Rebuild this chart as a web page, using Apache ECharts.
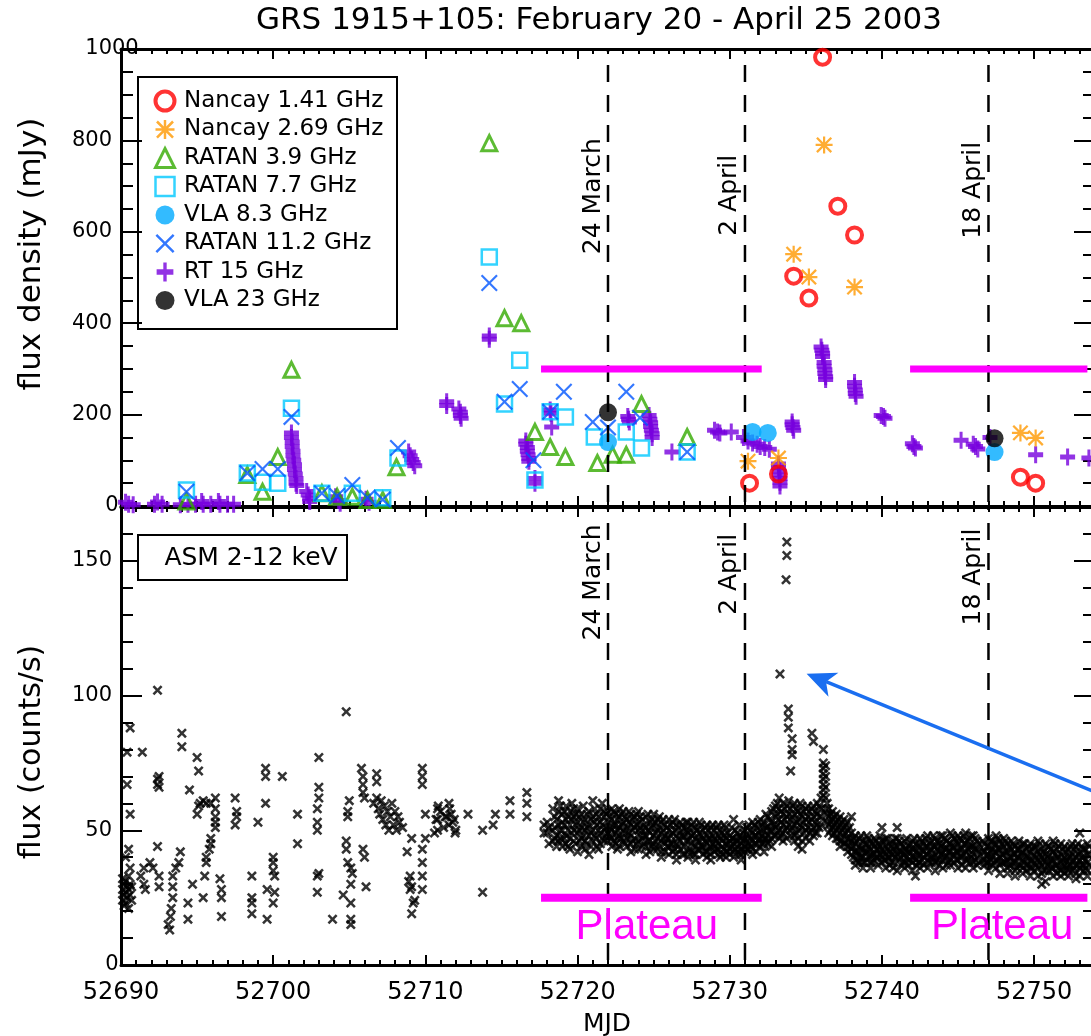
<!DOCTYPE html>
<html><head><meta charset="utf-8">
<script src="https://cdn.jsdelivr.net/npm/echarts/dist/echarts.min.js"></script>
<style>html,body{margin:0;padding:0;background:#fff}#c{width:1091px;height:1036px}</style>
</head><body><div id="c"></div>
<script>
// ---------------- data ----------------
const TITLE = 'GRS 1915+105: February 20 - April 25 2003';
const SERIES_NAMES = ['Nancay 1.41 GHz','Nancay 2.69 GHz','RATAN 3.9 GHz','RATAN 7.7 GHz','VLA 8.3 GHz','RATAN 11.2 GHz','RT 15 GHz','VLA 23 GHz'];
const X_TICK_LABELS = [52690, 52700, 52710, 52720, 52730, 52740, 52750];

const nancay141 = [[52731.3,50],[52733.2,70],[52734.2,503],[52735.2,455],[52736.1,982],[52737.1,656],[52738.2,593],[52749.1,63],[52750.1,50]];
const nancay269 = [[52731.2,98],[52733.2,105],[52734.2,551],[52735.2,501],[52736.2,790],[52738.2,479],[52749.1,160],[52750.1,149]];
const ratan39 = [[52694.3,10],[52698.3,68],[52699.3,31],[52700.3,107],[52701.2,298],[52703.2,28],[52704.2,20],[52705.2,20],[52706.2,13],[52707.2,13],[52708.1,85],[52714.2,794],[52715.2,411],[52716.3,400],[52717.2,162],[52718.2,129],[52719.2,107],[52721.3,94],[52722.3,112],[52723.2,112],[52724.2,223],[52727.2,151]];
const ratan77 = [[52694.3,35],[52698.3,72],[52699.3,52],[52700.3,50],[52701.2,214],[52703.2,28],[52705.2,28],[52707.2,18],[52708.2,105],[52714.2,545],[52715.2,223],[52716.2,319],[52717.2,57],[52718.2,206],[52719.2,195],[52721.1,151],[52723.2,162],[52724.2,127],[52727.2,118]];
const vla83 = [[52722.0,140],[52731.5,162],[52732.5,160],[52747.4,118]];
const ratan112 = [[52694.3,31],[52698.3,72],[52699.3,81],[52700.3,81],[52701.2,195],[52703.2,28],[52704.2,22],[52705.2,46],[52706.2,18],[52707.2,14],[52708.2,127],[52714.2,488],[52715.2,228],[52716.2,256],[52717.1,100],[52718.2,206],[52719.1,250],[52721.0,184],[52722.0,172],[52723.2,250],[52724.1,193],[52727.2,118]];
const rt15 = [[52690.3,8],[52690.5,4],[52690.8,3],[52692.2,4],[52692.4,9],[52692.7,4],[52693.9,3],[52694.4,4],[52694.9,4],[52695.3,10],[52695.4,4],[52695.9,4],[52696.4,10],[52696.5,4],[52697.0,4],[52697.4,4],
 [52701.2,160],[52701.2,150],[52701.25,140],[52701.25,130],[52701.3,120],[52701.3,110],[52701.35,100],[52701.4,90],[52701.4,80],[52701.45,70],[52701.5,60],[52701.5,50],[52701.55,45],
 [52702.2,32],[52702.3,24],[52702.4,16],[52702.4,10],[52704.1,20],[52704.3,12],[52704.4,6],[52706.1,15],[52706.3,8],
 [52708.9,118],[52709.0,110],[52709.1,102],[52709.2,95],[52709.3,88],
 [52711.4,228],[52711.4,220],[52712.2,212],[52712.3,205],[52712.3,198],[52712.35,192],[52714.2,372],[52714.2,365],
 [52716.6,142],[52716.6,135],[52716.7,128],[52716.7,120],[52716.75,112],[52716.8,104],[52716.8,98],[52717.2,60],[52717.2,50],
 [52718.2,210],[52718.25,203],[52718.3,173],[52723.3,196],[52723.35,190],[52723.4,184],
 [52724.7,198],[52724.75,190],[52724.8,182],[52724.8,174],[52724.85,166],[52724.9,158],[52724.9,150],[52726.2,118],
 [52729.0,166],[52729.2,162],[52729.35,160],[52730.1,162],
 [52730.9,150],[52731.2,142],[52731.5,138],[52731.8,135],[52732.0,130],[52732.3,128],[52732.6,124],
 [52733.2,92],[52733.2,84],[52733.25,76],[52733.25,68],[52733.3,60],[52733.3,52],[52733.3,44],
 [52734.1,184],[52734.1,178],[52734.15,172],[52734.2,166],
 [52736.0,348],[52736.05,341],[52736.1,334],[52736.1,327],[52736.2,314],[52736.2,306],[52736.25,298],[52736.25,290],[52736.3,283],[52736.3,277],
 [52738.2,270],[52738.2,262],[52738.25,254],[52738.25,246],[52738.3,240],
 [52739.95,198],[52740.1,196],[52740.2,192],[52742.0,136],[52742.1,130],[52742.2,127],[52745.2,144],
 [52746.0,135],[52746.15,130],[52746.3,125],[52747.1,150],[52750.1,112],[52752.2,107],[52753.6,105]];
const vla23 = [[52722.0,205],[52747.4,148]];

// RXTE/ASM 2-12 keV: rows of [MJD, count rates measured around that time ...]
const asmRows = [
 [52690.1,32,28,24],[52690.2,30,26,22],[52690.3,31,27,23,40],[52690.4,29,25,79,67],[52690.5,33,28,21,43],[52690.6,30,26,88,56,36],[52690.7,24,29],
 [52691.3,33],[52691.4,79],[52691.5,30,36],[52691.6,28],[52691.9,38],[52692.1,36],[52692.4,102,69,67,44],[52692.5,70,66,33,29],
 [52693.1,15],[52693.2,13],[52693.25,18],[52693.3,21],[52693.4,25,29,33],[52693.6,36],[52693.8,38],[52693.9,42],
 [52694.0,86,81],[52694.4,23,17],[52694.5,65],[52694.7,30],
 [52695.0,77,56],[52695.1,72,59],[52695.2,60],[52695.4,61,25],[52695.5,33],[52695.6,60,40,38],[52695.8,43],[52695.9,60,47,45],[52696.2,58,62,55,53,51],
 [52696.5,32],[52696.6,28,25,18],[52697.5,62,52],[52697.6,57,55],[52698.6,33,25,23,19],
 [52699.0,53],[52699.5,73,70,60],[52699.6,28,17],[52700.0,40,38,35,23],[52700.1,33,27],[52700.6,70],[52701.6,56,45],
 [52702.9,53,58,50,33,27],[52703.0,62,66,77,34],[52703.9,17],
 [52704.6,26],[52704.8,94,46,43],[52704.9,38,57,55],[52705.0,61],[52705.1,36,30,23,17,15],[52705.2,34],
 [52705.8,73],[52705.9,70,67,64,43],[52706.0,62,40],[52706.1,29],
 [52706.6,60],[52706.8,71,68,62],[52706.9,58],[52707.0,56],[52707.1,61],[52707.2,54],[52707.3,59],[52707.4,52],[52707.5,57],[52707.6,50],[52707.7,55],[52707.8,60],[52707.9,52],[52708.0,57],[52708.1,50],[52708.2,55],[52708.3,53],
 [52708.5,51],[52708.8,42],[52708.9,31],[52709.0,33,28],[52709.1,47,29,19],[52709.2,23],[52709.3,24],
 [52709.8,43,38,33,28,73,70,67],[52710.0,56,47],
 [52710.6,49],[52710.7,54],[52710.8,58,54,50],[52710.85,59],[52711.0,57],[52711.2,51],[52711.3,55],[52711.4,55],[52711.55,60,52],[52711.6,58],[52711.7,56],[52711.8,53],[52711.9,54],[52711.95,49],[52712.0,50],[52712.8,56],
 [52713.76,50,27],[52714.45,52],[52714.6,56],[52715.56,61,56],[52716.67,64,60,55],[52717.8,52,49],
 [52718.0,49,53],[52718.5,55,47,51],[52718.75,61,57,52,46],[52719.0,56,50,44,53],[52719.25,59,54,48,45],[52719.5,57,52,47,43],[52719.75,55,50,46,58],
 [52720.0,58,53,49,42],[52720.25,56,51,47,44],[52720.5,54,50,46,43],[52720.75,57,52,48,41],[52721.0,61,55,50,46],[52721.25,56,52,47,44],[52721.5,58,53,49,45],[52721.75,55,50,46,57],
 [52722.0,57,53,49,46],[52722.25,58,54,50,47,44],[52722.5,56,52,49,45],[52722.75,55,51,48,44,58],[52723.0,57,53,50,46],[52723.25,54,51,47,44],[52723.5,56,52,48,45,42],[52723.75,55,51,47,43],
 [52724.0,53,50,46,43,57],[52724.25,54,50,47,44],[52724.5,55,51,48,44,41],[52724.75,53,49,46,42],[52725.0,56,52,48,45,43],[52725.25,54,50,47,43],[52725.5,53,49,46,42,40],[52725.75,52,48,45,42],
 [52726.0,54,50,47,44,41],[52726.25,53,49,45,42],[52726.5,52,48,45,41,39],[52726.75,53,49,46,43],[52727.0,51,48,44,41],[52727.25,53,49,46,42,40],[52727.5,52,48,45,42],[52727.75,51,47,44,41,39],
 [52728.0,53,49,46,43],[52728.25,50,47,44,41],[52728.5,52,48,45,42,40],[52728.75,51,47,44,41,39],[52729.0,50,47,44,42],[52729.25,52,48,45,43,41],[52729.5,49,46,44,41],[52729.75,51,47,45,42,40],
 [52730.0,48,46,43,41],[52730.25,54,47,45,42,40],[52730.5,49,46,44,42],[52730.75,47,45,43,41,39],
 [52731.0,50,47,44,42],[52731.25,52,48,45,43],[52731.5,53,49,46,43,41],[52731.75,51,48,45,42],[52732.0,54,50,47,44],[52732.25,53,50,47,45,42],[52732.5,55,51,48,45],[52732.75,57,53,50,47,44],
 [52733.0,59,55,51,48],[52733.25,62,58,54,50,47],[52733.3,108],[52733.5,60,56,52,49,46],[52733.7,143],[52733.75,157,152,59,55,51,47],[52733.85,95,92,88],[52734.0,58,54,50,48,72],[52734.1,84,80,78],
 [52734.25,60,56,52,48,46],[52734.5,57,54,50,47,44],[52734.75,59,55,51,46,43],[52735.0,58,54,50,47],[52735.25,57,53,49,46],[52735.4,86],[52735.5,83,59,55,51,48],[52735.75,60,56,52,49],
 [52736.0,62,58,55,52],[52736.15,80,75,73,71,69,67,65,63],[52736.3,74,70,66,62,58],[52736.5,58,55,52,49],[52736.75,57,54,51,48],[52737.0,56,53,50,47],[52737.25,55,52,49,46,44],[52737.5,54,51,48,45],[52737.75,53,50,47,44,42],[52738.0,55,49,46,43,41],
 [52738.25,48,45,42,39,37],[52738.5,47,44,41,38],[52738.75,46,43,40,38,36],[52739.0,48,45,42,39],[52739.25,46,43,41,38,36],[52739.5,47,44,41,39],[52739.75,45,43,40,37],
 [52740.0,51,46,43,40,38],[52740.25,47,44,41,39,36],[52740.5,45,42,40,37],[52740.75,46,43,41,38,36],[52741.0,51,47,44,41,35],[52741.25,45,42,40,37],[52741.5,46,43,41,38,36],[52741.75,44,42,39,37],
 [52742.0,46,43,40,38,35],[52742.2,33],[52742.25,45,42,39,37],[52742.5,47,44,41,38,36],[52742.75,45,42,40,37],[52743.0,48,44,41,39,36],[52743.25,46,43,40,38],[52743.5,47,44,41,38,35],[52743.75,45,42,39,37],
 [52744.0,48,45,42,39,36],[52744.25,46,43,40,37],[52744.5,49,45,42,39,37],[52744.75,47,44,41,38],[52745.0,48,45,42,39,36],[52745.25,46,43,40,37],[52745.5,49,45,42,39,36],[52745.75,47,44,41,38],
 [52746.0,48,44,41,38,36],[52746.25,46,43,40,37],
 [52746.75,45,42,39,37],[52747.0,47,44,41,38,35],[52747.25,46,43,40,37],[52747.5,48,45,42,39,36],[52747.75,46,43,40,37,34],[52748.0,47,44,41,38],[52748.25,45,42,39,36,34],[52748.5,46,43,40,37],
 [52748.75,44,41,38,35,33],[52749.0,46,43,40,37],[52749.25,45,42,39,36,34],[52749.5,43,40,37,35],[52749.75,45,42,39,36,33],[52750.0,44,41,38,35],[52750.25,46,42,39,36,33],[52750.5,43,40,37,34,30],
 [52750.75,45,41,38,35,31],[52751.0,44,41,38,35],[52751.25,46,42,39,36,33],[52751.5,43,40,37,34],[52751.75,45,41,38,35,33],[52752.0,44,40,37,34],[52752.25,43,40,37,35,33],[52752.5,45,41,38,35],
 [52752.75,44,40,37,34,32],[52753.0,49,42,39,36,33],[52753.25,43,40,37,35],[52753.5,45,41,38,35,33],
 // dwells between the rows above
 [52718.125,51,45],[52718.375,58,50,46],[52718.625,54,48,44],[52718.875,59,50,47],[52719.125,57,52,47],[52719.375,55,50,44],[52719.625,60,54,49],[52719.875,56,52,45],
 [52720.125,55,50,46],[52720.375,59,53,48],[52720.625,56,51,45],[52720.875,54,49,44],[52721.125,58,53,48],[52721.375,55,50,43],[52721.625,60,52,47],[52721.875,56,51,48],
 [52722.125,55,51,48],[52722.375,57,52,46],[52722.625,54,50,47,43],[52722.875,56,52,47],[52723.125,55,49,45],[52723.375,57,53,49],[52723.625,54,50,46],[52723.875,56,52,45],
 [52724.125,55,51,48],[52724.375,52,48,45],[52724.625,56,50,46],[52724.875,54,51,44],[52725.125,53,49,46],[52725.375,55,51,44],[52725.625,54,50,47],[52725.875,51,47,44],
 [52726.125,52,48,45],[52726.375,54,50,43],[52726.625,51,47,44],[52726.875,52,48,41],[52727.125,53,50,46],[52727.375,50,47,43],[52727.625,53,49,41],[52727.875,50,46,43],
 [52728.125,52,48,44],[52728.375,51,46,42],[52728.625,50,47,43],[52728.875,52,48,45],[52729.125,51,46,43],[52729.375,50,47,40],[52729.625,52,48,43],[52729.875,49,45,42],
 [52730.125,51,47,44],[52730.375,50,46,43],[52730.625,52,48,41],[52730.875,49,46,43],
 [52731.125,51,46,43],[52731.375,50,47,44],[52731.625,52,48,45],[52731.875,53,49,46],[52732.125,52,48,45],[52732.375,56,51,47],[52732.625,54,50,46],[52732.875,58,52,48],
 [52733.125,60,56,52,49],[52733.375,57,53,48],[52733.625,58,54,50],[52733.875,61,56,52],[52734.125,59,55,51],[52734.375,58,53,49],[52734.625,60,56,52],[52734.875,57,53,49],
 [52735.125,59,55,51],[52735.375,58,54,50],[52735.625,57,53,49],[52735.875,59,55,51],[52736.4,60,56,53],[52736.625,56,53,50],[52736.875,55,52,49],[52737.125,54,51,47],
 [52737.375,53,50,46],[52737.625,52,49,45],[52737.875,51,47,44],
 [52738.125,47,44,40],[52738.375,46,42,39],[52738.625,48,43,40],[52738.875,45,42,38],[52739.125,47,44,40],[52739.375,45,41,38],[52739.625,46,43,40],[52739.875,48,44,41],
 [52740.125,46,42,39],[52740.375,47,43,40],[52740.625,44,41,38],[52740.875,47,44,40],[52741.125,46,42,39],[52741.375,44,41,38],[52741.625,47,43,40],[52741.875,45,42,39],
 [52742.125,47,43,40],[52742.375,44,41,38],[52742.625,46,43,39],[52742.875,47,44,41],[52743.125,45,42,38],[52743.375,48,44,40],[52743.625,46,43,39],[52743.875,48,44,41],
 [52744.125,47,43,40],[52744.375,45,42,38],[52744.625,48,44,41],[52744.875,46,42,39],[52745.125,47,43,40],[52745.375,48,45,41],[52745.625,46,43,39],[52745.875,48,44,40],
 [52746.125,47,43,39],[52746.375,45,42,38],[52746.625,46,42,39],[52746.875,44,41,38],
 [52747.125,46,42,39],[52747.375,45,42,38],[52747.625,47,43,39],[52747.875,45,41,38],[52748.125,46,42,38],[52748.375,44,40,37],[52748.625,45,41,38],[52748.875,43,40,36],
 [52749.125,44,41,37],[52749.375,45,41,38],[52749.625,44,40,37],[52749.875,43,39,36],[52750.125,44,40,37],[52750.375,45,41,38],[52750.625,42,39,35],[52750.875,44,40,37],
 [52751.125,43,39,36],[52751.375,45,41,37],[52751.625,44,40,36],[52751.875,43,39,36],[52752.125,42,39,36],[52752.375,44,40,37],[52752.625,43,39,36],[52752.875,45,41,37],
 [52753.125,44,40,37],[52753.375,43,39,36],[52753.625,44,41,37]
];

// reference marks
const dateLines = [52722, 52731, 52747];
const dateLabels = ['24 March', '2 April', '18 April'];
const plateaus = [[52717.6, 52732.1], [52741.85, 52753.5]];
const plateauTop = 300, plateauBottom = 25;
const arrowTail = [52754, 64.2], arrowTip = [52735.05, 108.1];

// ---------------- chart ----------------
const FF = '"DejaVu Sans", "Liberation Sans", sans-serif';
const X_MIN = 52690, X_MAX = 52754;
const chart = echarts.init(document.getElementById('c'), null, {renderer: 'canvas'});

const asmData = [];
asmRows.forEach(r => { for (let i = 1; i < r.length; i++) asmData.push([r[0], r[i]]); });

const PATH_X = 'path://M0,1.8 L1.8,0 L10,8.2 L18.2,0 L20,1.8 L11.8,10 L20,18.2 L18.2,20 L10,11.8 L1.8,20 L0,18.2 L8.2,10 Z';
const PATH_XS = 'path://M0,3.6 L3.6,0 L10,6.4 L16.4,0 L20,3.6 L13.6,10 L20,16.4 L16.4,20 L10,13.6 L3.6,20 L0,16.4 L6.4,10 Z';
const PATH_PLUS = 'path://M0,6 L6,6 L6,0 L9,0 L9,6 L15,6 L15,11 L9,11 L9,17 L6,17 L6,11 L0,11 Z';
const PATH_AST = 'path://M0,8.7 H20 V11.3 H0 Z M8.7,0 H11.3 V20 H8.7 Z M2.5,0.6 L19.4,17.5 L17.5,19.4 L0.6,2.5 Z M17.5,0.6 L19.4,2.5 L2.5,19.4 L0.6,17.5 Z';

const tickStyle = {color: '#000', width: 2};
function xAx(gridIndex, position, major, labels) {
  return {
    type: 'value', gridIndex, position, min: X_MIN, max: X_MAX, interval: major ? 10 : 1,
    axisLine: {show: major, onZero: false, lineStyle: {color: '#000', width: 3}},
    axisTick: {show: true, inside: true, length: major ? 10 : 5, lineStyle: tickStyle},
    axisLabel: {show: !!labels, margin: 16, color: '#000', fontFamily: FF, fontSize: 24,
      alignMinLabel: 'center', alignMaxLabel: 'center', hideOverlap: false,
      formatter: v => (X_TICK_LABELS.indexOf(Math.round(v * 1000) / 1000) >= 0 ? String(v) : '')},
    splitLine: {show: false}, minorTick: {show: false}
  };
}
function yAx(gridIndex, position, min, max, interval, len, labels, line, minorSplit) {
  return {
    type: 'value', gridIndex, position, min, max, interval,
    axisLine: {show: line, onZero: false, lineStyle: {color: '#000', width: 3}},
    axisTick: {show: true, inside: true, length: len, lineStyle: tickStyle},
    axisLabel: {show: !!labels, margin: 9, color: '#000', fontFamily: FF, fontSize: 21,
      alignMinLabel: 'center', alignMaxLabel: 'center', hideOverlap: false,
      formatter: v => (v % interval === 0 ? String(v) : '')},
    minorTick: {show: !!minorSplit, splitNumber: minorSplit || 5, length: 12, lineStyle: tickStyle},
    splitLine: {show: false}
  };
}

const G0 = {left: 121, top: 49, width: 974, height: 457, outerBoundsMode: 'none', containLabel: false};
const G1 = {left: 121, top: 507, width: 974, height: 458, outerBoundsMode: 'none', containLabel: false};

const TOP = {xAxisIndex: 0, yAxisIndex: 0};
const BOT = {xAxisIndex: 2, yAxisIndex: 2};

function sc(name, data, symbol, size, itemStyle, z) {
  return Object.assign({type: 'scatter', name, data, symbol, symbolSize: size, itemStyle, z, silent: true, animation: false}, TOP);
}
const series = [];
series.push(sc('RT 15 GHz', rt15, PATH_PLUS, [15, 17], {color: '#7700dd'}, 3));
series.push(sc('RATAN 3.9 GHz', ratan39, 'triangle', 15, {color: 'rgba(0,0,0,0)', borderColor: '#33aa00', borderWidth: 3}, 4));
series.push(sc('RATAN 7.7 GHz', ratan77, 'rect', 15, {color: 'rgba(0,0,0,0)', borderColor: '#00c8ff', borderWidth: 2.5}, 4));
series.push(sc('RATAN 11.2 GHz', ratan112, PATH_X, 17, {color: '#0055ff'}, 5));
series.push(sc('VLA 8.3 GHz', vla83, 'circle', 18, {color: '#00aaff'}, 5));
series.push(sc('VLA 23 GHz', vla23, 'circle', 18, {color: '#000'}, 6));
series.push(sc('Nancay 2.69 GHz', nancay269, PATH_AST, 17, {color: '#ff9900'}, 6));
series.push(sc('Nancay 1.41 GHz', nancay141, 'circle', 15, {color: 'rgba(0,0,0,0)', borderColor: '#ff0000', borderWidth: 4}, 7));

series.push(Object.assign({type: 'scatter', name: 'ASM', data: asmData, symbol: PATH_XS, symbolSize: 10,
  itemStyle: {color: '#000'}, z: 3, silent: true, animation: false, large: false}, BOT));

dateLines.forEach(d => {
  series.push(Object.assign({type: 'line', data: [[d, 1000], [d, 0]], symbol: 'none', z: 8, silent: true, animation: false,
    lineStyle: {color: '#000', width: 2.5, type: [17, 13], dashOffset: 14}}, TOP));
  series.push(Object.assign({type: 'line', data: [[d, 170], [d, 0]], symbol: 'none', z: 8, silent: true, animation: false,
    lineStyle: {color: '#000', width: 2.5, type: [17, 13], dashOffset: 14}}, BOT));
});
plateaus.forEach(p => {
  series.push(Object.assign({type: 'line', data: [[p[0], plateauTop], [p[1], plateauTop]], symbol: 'none', z: 9, silent: true, animation: false,
    lineStyle: {color: '#ff00ff', width: 7}}, TOP));
  series.push(Object.assign({type: 'line', data: [[p[0], plateauBottom], [p[1], plateauBottom]], symbol: 'none', z: 9, silent: true, animation: false,
    lineStyle: {color: '#ff00ff', width: 8}}, BOT));
});

const option = {
  animation: false,
  backgroundColor: '#fff',
  textStyle: {fontFamily: FF},
  grid: [G0, G1, Object.assign({}, G0), Object.assign({}, G1)],
  xAxis: [
    xAx(0, 'bottom', true, false), xAx(0, 'top', true, false),
    xAx(1, 'bottom', true, true), xAx(1, 'top', true, false),
    xAx(2, 'bottom', false, false), xAx(2, 'top', false, false),
    xAx(3, 'bottom', false, false), xAx(3, 'top', false, false)
  ],
  yAxis: [
    yAx(0, 'left', 0, 1000, 200, 21, true, true, 4), yAx(0, 'right', 0, 1000, 200, 21, false, true, 4),
    yAx(1, 'left', 0, 170, 50, 21, true, true, 0), yAx(1, 'right', 0, 170, 50, 21, false, true, 0),
    Object.assign(yAx(2, 'left', 0, 1000, 200, 0, false, false, 0), {axisTick: {show: false}}),
    yAx(3, 'left', 0, 170, 10, 12, false, false, 0), yAx(3, 'right', 0, 170, 10, 12, false, false, 0)
  ],
  legend: {
    data: SERIES_NAMES, orient: 'vertical', left: 153.5, top: 89.5, padding: 0,
    itemWidth: 19, itemHeight: 19, itemGap: 5.5, selectedMode: false,
    itemStyle: {borderWidth: 'inherit'},
    textStyle: {fontFamily: FF, fontSize: 23, color: '#000', padding: [0, 0, 0, 4.5]}
  },
  series
};
chart.setOption(option);

// annotations positioned through the axes
const pT = (x, y) => chart.convertToPixel({xAxisIndex: 0, yAxisIndex: 0}, [x, y]);
const pB = (x, y) => chart.convertToPixel({xAxisIndex: 2, yAxisIndex: 2}, [x, y]);
function txt(x, y, text, size, opts) {
  return Object.assign({type: 'text', x, y, silent: true, z: 20,
    style: {text, font: size + 'px ' + FF, fill: '#000', align: 'center', verticalAlign: 'middle', textAlign: 'center', textVerticalAlign: 'middle'}}, opts || {});
}
const graphic = [];
graphic.push(txt(599, 21, TITLE, 31));
graphic.push(txt(32, 254, 'flux density (mJy)', 31, {rotation: Math.PI / 2}));
graphic.push(txt(32, 752, 'flux (counts/s)', 30, {rotation: Math.PI / 2}));
graphic.push(txt(607, 1024, 'MJD', 25));
graphic.push({type: 'rect', silent: true, z: 20, shape: {x: 138, y: 77, width: 259, height: 252}, style: {fill: 'none', stroke: '#000', lineWidth: 2}});
graphic.push({type: 'rect', silent: true, z: 20, shape: {x: 138, y: 535, width: 209, height: 45}, style: {fill: '#fff', stroke: '#000', lineWidth: 2}});
graphic.push(txt(251, 558, 'ASM 2-12 keV', 25));
const topLabelV = [678, 680, 691], botLabelV = [142, 145, 144];
dateLines.forEach((d, i) => {
  const a = pT(d, topLabelV[i]);
  graphic.push(txt(a[0] - 15, a[1], dateLabels[i], 25, {rotation: Math.PI / 2}));
  const b = pB(d, botLabelV[i]);
  graphic.push(txt(b[0] - 15, b[1], dateLabels[i], 25, {rotation: Math.PI / 2}));
});
const plateauTextX = [52724.55, 52747.9];
plateauTextX.forEach(x => {
  const p = pB(x, 14);
  graphic.push({type: 'text', x: p[0], y: p[1], silent: true, z: 20,
    style: {text: 'Plateau', font: '42px "Liberation Sans", Arial, sans-serif', fill: '#ff00ff', align: 'center', verticalAlign: 'middle', textAlign: 'center', textVerticalAlign: 'middle'}});
});
// arrow (shaft + head) from data coordinates
(function () {
  const T = pB(arrowTip[0], arrowTip[1]), S = pB(arrowTail[0], arrowTail[1]);
  const dx = S[0] - T[0], dy = S[1] - T[1], L = Math.hypot(dx, dy);
  const ux = dx / L, uy = dy / L, nx = -uy, ny = ux;
  const len = 29, half = 13, notch = 21;
  const w1 = [T[0] + ux * len + nx * half, T[1] + uy * len + ny * half];
  const w2 = [T[0] + ux * len - nx * half, T[1] + uy * len - ny * half];
  const nc = [T[0] + ux * notch, T[1] + uy * notch];
  graphic.push({type: 'line', silent: true, z: 19, shape: {x1: S[0], y1: S[1], x2: nc[0], y2: nc[1]}, style: {stroke: '#1a6ef0', lineWidth: 3.5}});
  graphic.push({type: 'polygon', silent: true, z: 19, shape: {points: [T, w1, nc, w2]}, style: {fill: '#1a6ef0'}});
})();
chart.setOption({graphic: {elements: graphic}});
</script></body></html>
